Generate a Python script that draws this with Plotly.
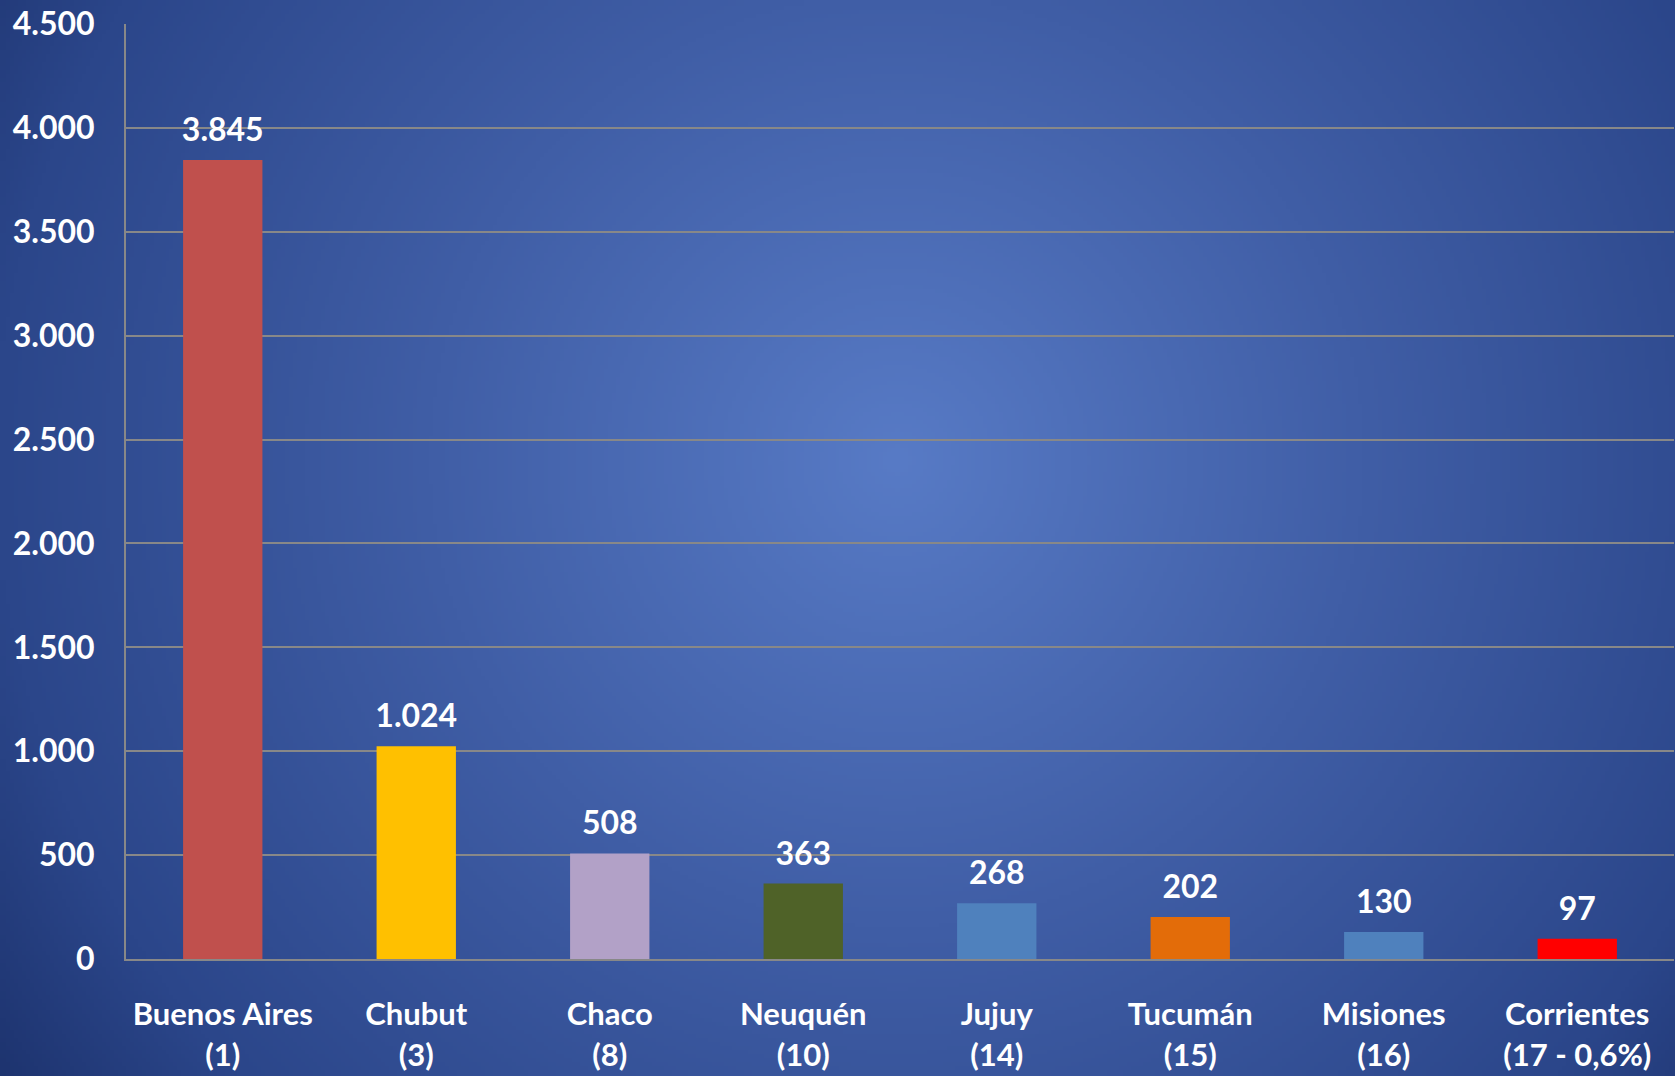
import base64
import struct
import zlib

import numpy as np
import plotly.graph_objects as go

# ---------------- data ----------------
provinces = ["Buenos Aires", "Chubut", "Chaco", "Neuquén", "Jujuy",
             "Tucumán", "Misiones", "Corrientes"]
rank_labels = ["(1)", "(3)", "(8)", "(10)", "(14)", "(15)", "(16)", "(17 - 0,6%)"]
values = [3845, 1024, 508, 363, 268, 202, 130, 97]
bar_colors = ["#C0504D", "#FFC000", "#B2A1C7", "#4F6228", "#4F81BD",
              "#E36C09", "#4F81BD", "#FF0000"]
y_ticks = [0, 500, 1000, 1500, 2000, 2500, 3000, 3500, 4000, 4500]

categories = [f"{p}<br>{r}" for p, r in zip(provinces, rank_labels)]

# ---------------- background (radial gradient) ----------------
W, H = 1675, 1076
SW, SH = 420, 270
cx, cy = 897, 460
xs = np.linspace(0, W, SW)
ys = np.linspace(0, H, SH)
X, Y = np.meshgrid(xs, ys)
D = np.sqrt((X - cx) ** 2 + (Y - cy) ** 2)
stops = [0, 470, 905, 1100]
rs = [88, 64, 43, 29]
gs = [123, 94, 70, 51]
bs = [198, 166, 138, 110]
img = np.stack([np.interp(D, stops, rs), np.interp(D, stops, gs),
                np.interp(D, stops, bs)], axis=-1).astype(np.uint8)


def png_uri(a):
    h, w, _ = a.shape
    raw = b"".join(b"\x00" + a[i].tobytes() for i in range(h))

    def chunk(tag, data):
        c = struct.pack(">I", len(data)) + tag + data
        return c + struct.pack(">I", zlib.crc32(tag + data) & 0xFFFFFFFF)

    png = (b"\x89PNG\r\n\x1a\n"
           + chunk(b"IHDR", struct.pack(">IIBBBBB", w, h, 8, 2, 0, 0, 0))
           + chunk(b"IDAT", zlib.compress(raw, 9))
           + chunk(b"IEND", b""))
    return "data:image/png;base64," + base64.b64encode(png).decode()


ML, MR, MT, MB = 126, 1, 24, 117
PW, PH = W - ML - MR, H - MT - MB

FONT = "Lato"

fig = go.Figure()
fig.add_trace(go.Bar(
    x=categories, y=values, marker=dict(color=bar_colors, line=dict(width=0)),
    hoverinfo="skip", showlegend=False,
))
fig.add_trace(go.Scatter(
    x=categories, y=values, mode="markers+text",
    text=[f"{v:,}".replace(",", ".") for v in values],
    textposition="top center",
    marker=dict(size=16, color="rgba(0,0,0,0)"),
    textfont=dict(family=FONT, size=32, color="white", weight="bold"),
    hoverinfo="skip", showlegend=False,
))

fig.update_layout(
    width=W, height=H,
    margin=dict(l=ML, r=MR, t=MT, b=MB, pad=0, autoexpand=False),
    paper_bgcolor="#2a4386",
    plot_bgcolor="rgba(0,0,0,0)",
    separators=",.",
    bargap=0.59,
    images=[dict(
        source=png_uri(img), xref="paper", yref="paper",
        x=-ML / PW, y=1 + MT / PH, sizex=W / PW, sizey=H / PH,
        xanchor="left", yanchor="top", sizing="stretch", layer="below",
    )],
    font=dict(family=FONT, color="white", size=30, weight="bold"),
)
fig.update_yaxes(
    range=[0, 4500], tickvals=y_ticks, tickformat=",d",
    showgrid=True, gridcolor="#888888", gridwidth=2,
    zeroline=False, showline=True, linecolor="#888888", linewidth=2,
    ticks="", ticklabelstandoff=23, automargin=False,
    tickfont=dict(family=FONT, size=32, color="white", weight="bold"),
    fixedrange=True,
)
fig.update_xaxes(
    showgrid=False, zeroline=False, showline=True, linecolor="#888888",
    linewidth=2, ticks="", ticklabelstandoff=27, automargin=False,
    tickfont=dict(family=FONT, size=31, color="white", weight="bold"),
    fixedrange=True,
)

fig.write_html(
    "out.html",
    config={"displayModeBar": False},
    post_script="document.body.style.margin='0';document.body.style.overflow='hidden';",
)
